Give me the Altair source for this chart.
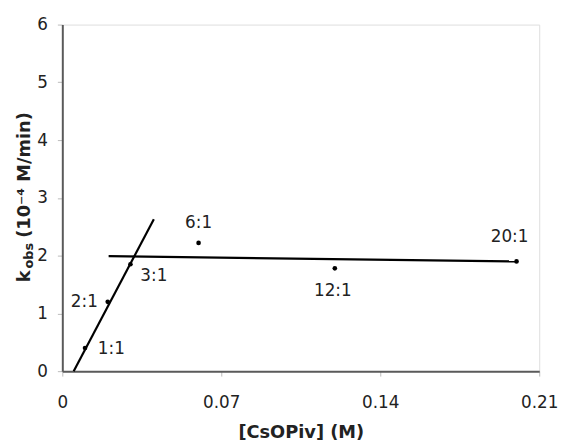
import altair as alt
import pandas as pd

# Data points (ratio labels, [CsOPiv] in M, kobs in 1e-4 M/min)
labels = ["1:1", "2:1", "3:1", "6:1", "12:1", "20:1"]
conc = [0.010, 0.020, 0.030, 0.060, 0.120, 0.200]
kobs = [0.40, 1.20, 1.85, 2.22, 1.78, 1.90]

# Fit lines (end points)
steep_x = [0.005, 0.0403]
steep_y = [0.0, 2.63]
flat_x = [0.0204, 0.200]
flat_y = [1.99, 1.90]

x_ticks = [0, 0.07, 0.14, 0.21]
y_ticks = [0, 1, 2, 3, 4, 5, 6]

FONT = "DejaVu Sans"
TXT = "#222222"
FRAME = "#5a5a5a"

pts = pd.DataFrame({"x": conc, "y": kobs, "label": labels})
lines = pd.DataFrame({
    "x": steep_x + flat_x,
    "y": steep_y + flat_y,
    "g": ["steep", "steep", "flat", "flat"],
})

xs = alt.Scale(domain=[0, 0.21], nice=False, zero=False)
ys = alt.Scale(domain=[0, 6], nice=False)

xax = alt.Axis(values=x_ticks, labelExpr="datum.value == 0 ? '0' : format(datum.value, '.2f')",
               title="[CsOPiv] (M)", grid=False, tickSize=5, labelPadding=19, labelFlush=False,
               titlePadding=13, tickColor="#bbbbbb", domainColor=FRAME, domainWidth=2,
               labelFont=FONT, labelFontSize=17, labelColor=TXT,
               titleFont=FONT, titleFontSize=18, titleFontWeight="bold", titleColor=TXT)
yax = alt.Axis(values=y_ticks, format="d", title=None, grid=False, tickSize=5, labelPadding=10,
               labelFlush=False,
               tickColor="#bbbbbb", domainColor=FRAME, domainWidth=2,
               labelFont=FONT, labelFontSize=17, labelColor=TXT)

base_line = alt.Chart(lines).mark_line(color="black", strokeWidth=2.2).encode(
    x=alt.X("x:Q", scale=xs, axis=xax),
    y=alt.Y("y:Q", scale=ys, axis=yax),
    detail="g:N",
)

points = alt.Chart(pts).mark_circle(color="black", size=22, opacity=1).encode(
    x=alt.X("x:Q", scale=xs),
    y=alt.Y("y:Q", scale=ys),
)

# label placement (style): (align, dx, dy)
placement = {
    "1:1": ("left", 13, 1),
    "2:1": ("right", -10, 0),
    "3:1": ("left", 10, 12),
    "6:1": ("center", 0, -20),
    "12:1": ("center", -2, 23),
    "20:1": ("center", -7, -25),
}
label_layers = []
for lab in labels:
    al, dx, dy = placement[lab]
    label_layers.append(
        alt.Chart(pts).transform_filter(alt.datum.label == lab).mark_text(
            align=al, baseline="middle", dx=dx, dy=dy, font=FONT, fontSize=17, color=TXT
        ).encode(x=alt.X("x:Q", scale=xs), y=alt.Y("y:Q", scale=ys), text="label:N")
    )

one = pd.DataFrame({"a": [0]})
ytitle_k = alt.Chart(one).mark_text(
    text="k", angle=270, align="left", baseline="middle", font=FONT, fontSize=18,
    fontWeight="bold", color=TXT
).encode(x=alt.value(-38), y=alt.value(261))
ytitle_obs = alt.Chart(one).mark_text(
    text="obs", angle=270, align="left", baseline="middle", font=FONT, fontSize=13,
    fontWeight="bold", color=TXT
).encode(x=alt.value(-34), y=alt.value(247))
ytitle_rest = alt.Chart(one).mark_text(
    text="(10⁻⁴ M/min)", angle=270, align="left", baseline="middle", font=FONT, fontSize=18,
    fontWeight="bold", color=TXT
).encode(x=alt.value(-38), y=alt.value(216))

chart = alt.layer(
    base_line, points, *label_layers, ytitle_k, ytitle_obs, ytitle_rest
).properties(
    width=483, height=351,
    autosize=alt.AutoSizeParams(type="none"),
    padding={"left": 55, "top": 14, "right": 19, "bottom": 72},
).configure_view(
    stroke=FRAME, strokeWidth=2
).configure(background="white")

chart.save("out.html", embed_options={"renderer": "svg", "actions": False})
